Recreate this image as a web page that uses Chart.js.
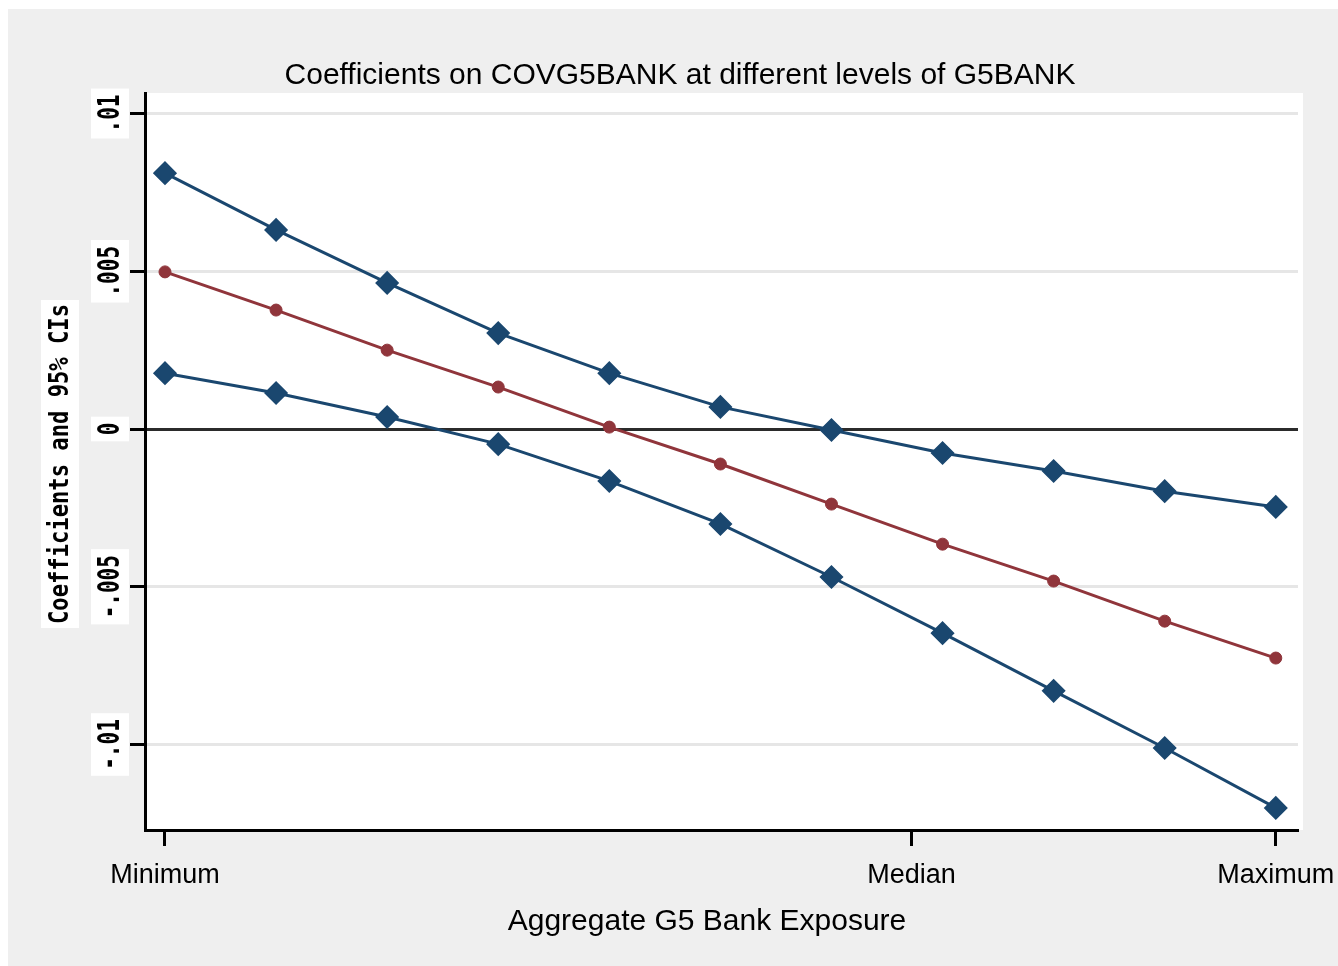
<!DOCTYPE html>
<html>
<head>
<meta charset="utf-8">
<script src="https://cdn.jsdelivr.net/npm/chart.js@4.4.0/dist/chart.umd.min.js"></script>
<style>
  body { margin: 0; background: #fff; }
  #wrap { width: 1338px; height: 966px; }
</style>
</head>
<body>
<div id="wrap"><canvas id="coefChart"></canvas></div>
<script>
// levels of G5BANK (0 = minimum, 10 = maximum)
const levels = [0, 1, 2, 3, 4, 5, 6, 7, 8, 9, 10];
const upperCI = [0.00811, 0.00631, 0.00463, 0.00304, 0.00177, 0.00070, -0.00003, -0.00076, -0.00133, -0.00197, -0.00247];
const coefs = [0.00498, 0.00377, 0.00250, 0.00133, 0.00006, -0.00111, -0.00238, -0.00365, -0.00482, -0.00609, -0.00726];
const lowerCI = [0.00177, 0.00114, 0.00038, -0.00048, -0.00165, -0.00301, -0.00469, -0.00647, -0.00830, -0.01011, -0.01201];

const xTickValues = [0, 6.72, 10];
const xTickLabels = ['Minimum', 'Median', 'Maximum'];
const yTickValues = [-0.01, -0.005, 0, 0.005, 0.01];
const yTickLabels = ['-.01', '-.005', '0', '.005', '.01'];

const blue = '#1a476f';
const red = '#90353b';

function toPoints(arr) {
  return levels.map((x, i) => ({ x: x, y: arr[i] }));
}

// stata-ish backgrounds, rotated y labels and titles
const stataLook = {
  id: 'stataLook',
  beforeDraw(chart) {
    const ctx = chart.ctx;
    const a = chart.chartArea;
    ctx.save();
    ctx.fillStyle = '#ffffff';
    ctx.fillRect(0, 0, chart.width, chart.height);
    ctx.fillStyle = '#efefef';
    ctx.fillRect(8, 9, chart.width - 8, chart.height - 9);
    ctx.fillStyle = '#ffffff';
    ctx.fillRect(a.left, a.top, a.right - a.left + 5, a.bottom - a.top);
    ctx.restore();
  },
  afterDraw(chart) {
    const ctx = chart.ctx;
    const yScale = chart.scales.y;
    ctx.save();

    // titles
    ctx.fillStyle = '#000';
    ctx.textAlign = 'center';
    ctx.textBaseline = 'alphabetic';
    ctx.font = '30px "Liberation Sans", Arial, sans-serif';
    ctx.fillText('Coefficients on COVG5BANK at different levels of G5BANK', 680, 84);
    ctx.fillText('Aggregate G5 Bank Exposure', 707, 930);

    // y tick labels, rotated in white boxes
    ctx.font = 'bold 30px "DejaVu Sans Mono", monospace';
    ctx.textBaseline = 'middle';
    yTickValues.forEach((v, i) => {
      const py = yScale.getPixelForValue(v);
      const label = yTickLabels[i];
      const w = ctx.measureText(label).width * 0.7;
      ctx.fillStyle = '#fff';
      ctx.fillRect(91, py - w / 2 - 6, 38, w + 12);
      ctx.save();
      ctx.translate(110, py);
      ctx.rotate(-Math.PI / 2);
      ctx.fillStyle = '#000';
      ctx.fillText(label, 0, 1, w);
      ctx.restore();
    });

    // y axis title
    ctx.fillStyle = '#fff';
    ctx.fillRect(41, 300, 38, 328);
    ctx.save();
    ctx.translate(61, 464);
    ctx.rotate(-Math.PI / 2);
    ctx.fillStyle = '#000';
    ctx.font = 'bold 26px "DejaVu Sans Mono", monospace';
    ctx.fillText('Coefficients and 95% CIs', 0, 0, 320);
    ctx.restore();

    ctx.restore();
  }
};

new Chart(document.getElementById('coefChart'), {
  type: 'line',
  data: {
    datasets: [
      {
        label: 'Upper CI',
        data: toPoints(upperCI),
        borderColor: blue,
        backgroundColor: blue,
        borderWidth: 3,
        pointStyle: 'rectRot',
        pointRadius: 11,
        pointBorderWidth: 1.5,
        tension: 0
      },
      {
        label: 'Lower CI',
        data: toPoints(lowerCI),
        borderColor: blue,
        backgroundColor: blue,
        borderWidth: 3,
        pointStyle: 'rectRot',
        pointRadius: 11,
        pointBorderWidth: 1.5,
        tension: 0
      },
      {
        label: 'Coefficient',
        data: toPoints(coefs),
        borderColor: red,
        backgroundColor: red,
        borderWidth: 3,
        pointStyle: 'circle',
        pointRadius: 6,
        pointBorderWidth: 1,
        tension: 0
      }
    ]
  },
  options: {
    responsive: true,
    maintainAspectRatio: false,
    animation: false,
    layout: {
      padding: { left: 0, top: 93, right: 40, bottom: 0 }
    },
    plugins: {
      legend: { display: false },
      tooltip: { enabled: false }
    },
    scales: {
      x: {
        type: 'linear',
        min: -0.18,
        max: 10.2,
        afterBuildTicks: (scale) => {
          scale.ticks = xTickValues.map(v => ({ value: v }));
        },
        afterFit: (scale) => {
          scale.height = 136;
          scale.paddingLeft = 0;
          scale.paddingRight = 0;
        },
        grid: {
          drawOnChartArea: false,
          drawTicks: true,
          tickLength: 16,
          tickColor: '#000',
          tickWidth: 3
        },
        border: { display: true, color: '#000', width: 3 },
        ticks: {
          autoSkip: false,
          maxRotation: 0,
          minRotation: 0,
          padding: 13,
          color: '#000',
          font: { family: '"Liberation Sans", Arial, sans-serif', size: 27 },
          callback: (value, index) => xTickLabels[index]
        }
      },
      y: {
        type: 'linear',
        min: -0.01271,
        max: 0.01065,
        afterBuildTicks: (scale) => {
          scale.ticks = yTickValues.map(v => ({ value: v }));
        },
        afterFit: (scale) => { scale.width = 145; },
        grid: {
          color: (c) => (c.tick && c.tick.value === 0) ? '#2b2b2b' : '#e6e6e6',
          lineWidth: 3,
          tickLength: 15,
          tickColor: '#000',
          tickWidth: 3
        },
        border: { display: true, color: '#000', width: 3 },
        ticks: { display: false }
      }
    }
  },
  plugins: [stataLook]
});
</script>
</body>
</html>
